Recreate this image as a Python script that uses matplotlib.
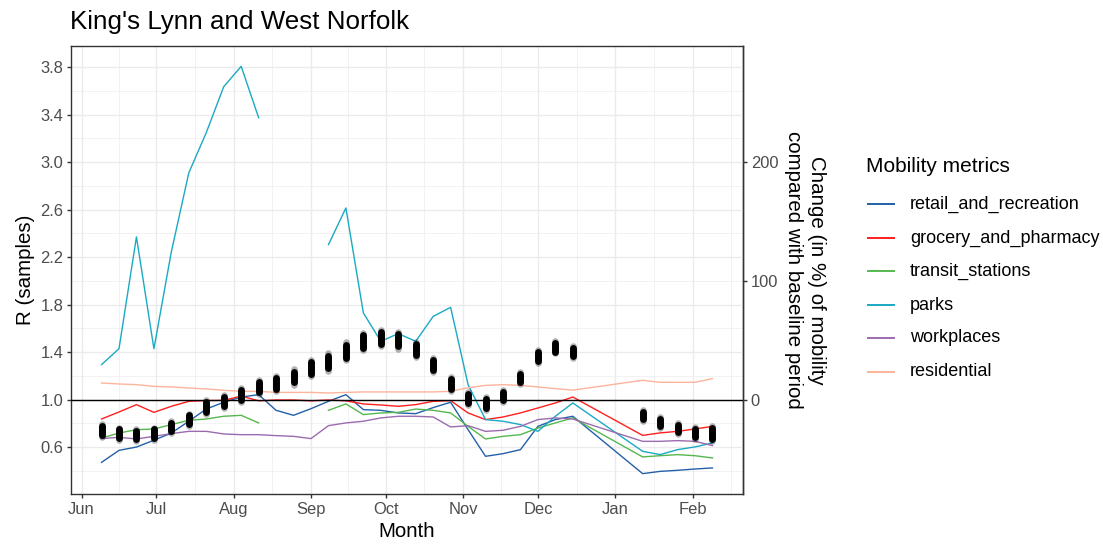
import datetime as dt
import numpy as np
import matplotlib
matplotlib.use("Agg")
import matplotlib.pyplot as plt
import matplotlib.dates as mdates
from matplotlib.lines import Line2D

plt.rcParams['font.family'] = ['Liberation Sans', 'DejaVu Sans']

# ---------------- data ----------------
title = "King's Lynn and West Norfolk"

week_dates = ["2020-06-09", "2020-06-16", "2020-06-23", "2020-06-30", "2020-07-07",
              "2020-07-14", "2020-07-21", "2020-07-28", "2020-08-04", "2020-08-11",
              "2020-08-18", "2020-08-25", "2020-09-01", "2020-09-08", "2020-09-15",
              "2020-09-22", "2020-09-29", "2020-10-06", "2020-10-13", "2020-10-20",
              "2020-10-27", "2020-11-03", "2020-11-10", "2020-11-17", "2020-11-24",
              "2020-12-01", "2020-12-08", "2020-12-15", "2021-01-12", "2021-01-19",
              "2021-01-26", "2021-02-02", "2021-02-09"]

# R samples: central value and spread of the sample cloud
R_mid = [0.742, 0.714, 0.705, 0.714, 0.770, 0.832, 0.938, 0.986, 1.042, 1.105,
         1.135, 1.190, 1.267, 1.317, 1.407, 1.490, 1.520, 1.500, 1.420, 1.290,
         1.130, 1.010, 0.970, 1.030, 1.180, 1.360, 1.440, 1.400, 0.868, 0.809,
         0.756, 0.719, 0.714]
R_spread = [0.055, 0.050, 0.050, 0.050, 0.050, 0.050, 0.055, 0.055, 0.060, 0.060,
            0.065, 0.065, 0.070, 0.075, 0.075, 0.075, 0.070, 0.070, 0.065, 0.060,
            0.060, 0.055, 0.055, 0.050, 0.050, 0.055, 0.050, 0.050, 0.045, 0.045,
            0.045, 0.050, 0.065]

nan = np.nan
mobility = {
    "retail_and_recreation": [-52.8, -42.7, -39.9, -34.2, -28.1, -18.2, -7.9, -2.2, 2.2, 4.2,
                              -9.0, -13.2, -7.6, -1.4, 4.2, -8.4, -9.0, -11.2, -11.8, -6.7,
                              -2.2, -25.3, -47.7, -45.5, -42.1, -22.5, -16.8, -14.0, -62.3, -60.4,
                              -59.5, -58.4, -57.5],
    "grocery_and_pharmacy": [-16.3, -10.4, -4.2, -10.7, -5.6, -1.4, -0.8, -0.6, 3.0, -1.0,
                             -0.3, -0.3, -1.0, -0.3, -1.0, -3.6, -4.5, -5.6, -4.2, -1.4,
                             -0.8, -11.2, -16.8, -14.6, -11.2, -7.0, -2.8, 2.2, -30.1, -28.0,
                             -26.7, -24.7, -22.5],
    "transit_stations": [-32.3, -28.1, -25.3, -24.7, -21.0, -17.4, -16.3, -14.0, -13.2, -19.6,
                         nan, nan, nan, -9.0, -3.6, -12.6, -11.2, -10.7, -7.9, -9.0,
                         -11.2, -22.5, -33.1, -30.9, -29.5, -23.9, -19.6, -15.4, -48.2, -47.2,
                         -46.3, -47.2, -49.1],
    "parks": [29.5, 42.9, 137.0, 42.9, 124.6, 191.0, 224.8, 263.5, 280.6, 237.4,
              nan, nan, nan, 130.5, 161.4, 73.0, 49.1, 55.6, 49.1, 70.1,
              77.7, 12.6, -16.8, -18.2, -21.0, -26.7, -14.0, -2.8, -43.5, -46.3,
              -42.1, -39.8, -36.5],
    "workplaces": [-32.8, -31.7, -33.1, -30.9, -28.6, -26.7, -26.7, -28.9, -29.5, -29.5,
                   -30.3, -30.9, -32.8, -21.9, -19.6, -18.2, -15.4, -14.0, -14.0, -14.6,
                   -23.0, -21.9, -26.7, -25.8, -22.5, -16.8, -15.4, -16.3, -35.1, -35.1,
                   -34.5, -35.1, -38.7],
    "residential": [14.0, 13.2, 12.6, 11.2, 10.7, 9.8, 9.0, 7.9, 7.0, 7.0,
                    6.1, 6.1, 6.1, 5.6, 6.1, 6.5, 6.5, 6.5, 6.5, 6.5,
                    7.0, 10.0, 12.0, 12.6, 12.0, 10.7, 9.3, 8.0, 16.3, 14.6,
                    14.6, 14.6, 17.7],
}
metric_names = ["retail_and_recreation", "grocery_and_pharmacy", "transit_stations",
                "parks", "workplaces", "residential"]
metric_colors = ["#2360A8", "#FF1F1F", "#55B84E", "#1AA9C4", "#9B6BB0", "#FDB49C"]

month_ticks = ["2020-06-01", "2020-07-01", "2020-08-01", "2020-09-01", "2020-10-01",
               "2020-11-01", "2020-12-01", "2021-01-01", "2021-02-01"]
R_ticks = [0.6, 1.0, 1.4, 1.8, 2.2, 2.6, 3.0, 3.4, 3.8]
sec_ticks = [0, 100, 200]

# ---------------- plotting ----------------
W, H = 1103, 551
fig = plt.figure(figsize=(W / 100, H / 100), dpi=100)
L, R, T, B = 71, 743, 46, 494
ax = fig.add_axes([L / W, 1 - B / H, (R - L) / W, (B - T) / H])

to_num = lambda s: mdates.date2num(dt.datetime.strptime(s, "%Y-%m-%d"))
x = np.array([to_num(s) for s in week_dates])
R_mid_a = np.array(R_mid)
R_spr_a = np.array(R_spread)

def to_R(m):
    return 1 + np.asarray(m, dtype=float) / 100.0

# scale limits (ggplot-like 5% expansion)
all_y = [R_mid_a - R_spr_a, R_mid_a + R_spr_a] + [to_R(mobility[k]) for k in metric_names]
ymin = np.nanmin([np.nanmin(a) for a in all_y])
ymax = np.nanmax([np.nanmax(a) for a in all_y])
ypad = (ymax - ymin) * 0.05
ax.set_ylim(ymin - ypad, ymax + ypad)
xpad = (x.max() - x.min()) * 0.05
ax.set_xlim(x.min() - xpad, x.max() + xpad)

# grid
xt = np.array([to_num(s) for s in month_ticks])
xminor = list((xt[:-1] + xt[1:]) / 2) + [xt[-1] + (xt[-1] - xt[-2]) / 2]
yminor = [v + 0.2 for v in R_ticks[:-1]] + [R_ticks[0] - 0.2]
for v in xminor:
    ax.axvline(v, color="#F0F0F0", lw=0.6, zorder=0)
for v in yminor:
    ax.axhline(v, color="#F0F0F0", lw=0.6, zorder=0)
for v in xt:
    ax.axvline(v, color="#EBEBEB", lw=1.0, zorder=0.1)
for v in R_ticks:
    ax.axhline(v, color="#EBEBEB", lw=1.0, zorder=0.1)

# mobility lines
for name, col in zip(metric_names, metric_colors):
    ax.plot(x, to_R(mobility[name]), color=col, lw=1.0, zorder=2)

ax.axhline(1.0, color="black", lw=1.0, zorder=3)

# R sample clouds
for xi, m, s in zip(x, R_mid_a, R_spr_a):
    ax.plot([xi, xi], [m - s, m + s], color="black", alpha=0.3, lw=4.8,
            solid_capstyle="round", zorder=4)
    ax.plot([xi, xi], [m - 0.7 * s, m + 0.7 * s], color="black", lw=5.0,
            solid_capstyle="round", zorder=5)

# axes styling
ax.set_xticks(xt)
ax.set_xticklabels([mdates.num2date(v).strftime("%b") for v in xt])
ax.set_yticks(R_ticks)
ax.set_yticklabels([f"{v:.1f}" for v in R_ticks])
ax.tick_params(axis="both", which="major", length=3, width=1.0, color="#333333",
               labelsize=11.9, labelcolor="#4D4D4D", pad=2.5)
for sp in ax.spines.values():
    sp.set_color("#333333")
    sp.set_linewidth(1.0)

sec = ax.secondary_yaxis("right", functions=(lambda r: (r - 1) * 100, lambda m: 1 + m / 100))
sec.set_yticks(sec_ticks)
sec.set_yticklabels([str(v) for v in sec_ticks])
sec.tick_params(axis="y", length=3, width=1.0, color="#333333",
                labelsize=11.9, labelcolor="#4D4D4D", pad=2.5)
sec.spines["right"].set_color("#333333")
sec.spines["right"].set_linewidth(1.0)

ax.set_xlabel("Month", fontsize=14.8, color="black", labelpad=4)
ax.set_ylabel("R (samples)", fontsize=14.8, color="black", labelpad=4)

fig.text(805 / W, 1 - 270 / H, "Change (in %) of mobility\ncompared with baseline period",
         rotation=270, ha="center", va="center", multialignment="center",
         fontsize=14.8, linespacing=1.25, color="black")

fig.text(70 / W, 1 - 22 / H, title, fontsize=18.7, ha="left", va="center", color="black")

# legend (drawn manually)
fig.text(866 / W, 1 - 167 / H, "Mobility metrics", fontsize=15.0, ha="left", va="center")
entry_y = [204, 238, 271, 305, 338, 372]
for name, col, yy in zip(metric_names, metric_colors, entry_y):
    fig.add_artist(Line2D([868 / W, 894 / W], [1 - yy / H, 1 - yy / H], color=col, lw=1.4,
                          transform=fig.transFigure))
    fig.text(910 / W, 1 - yy / H, name, fontsize=13.0, ha="left", va="center", color="black")

fig.savefig("out.png", dpi=100)
